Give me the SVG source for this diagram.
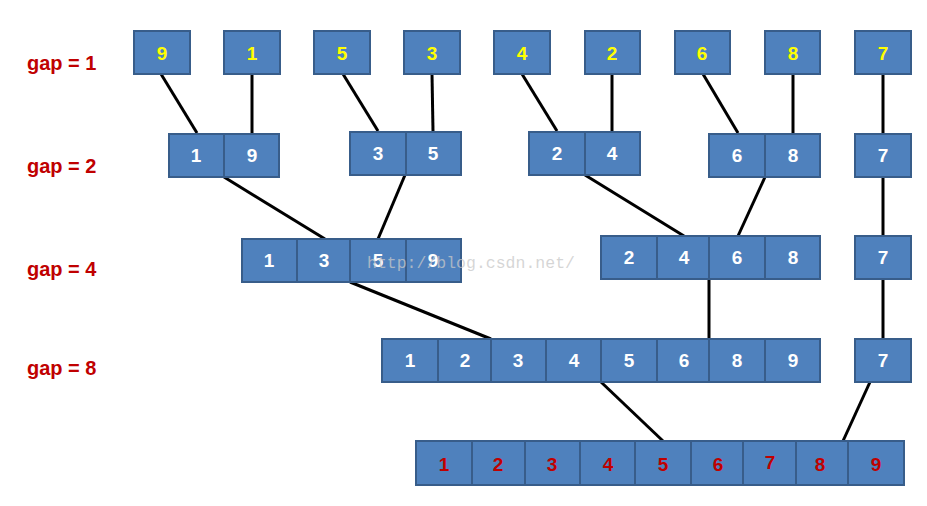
<svg xmlns="http://www.w3.org/2000/svg" width="927" height="506" viewBox="0 0 927 506">
<style>
rect{fill:#4F81BD;stroke:#385D8A;stroke-width:2}
text{font-family:"Liberation Sans",Arial,sans-serif;font-weight:bold;font-size:19px;text-anchor:middle}
.y{fill:#FFFF00}
.w{fill:#FFFFFF}
.r{fill:#C00000}
.lbl{fill:#C00000;text-anchor:start;font-size:20px}
.c line{stroke:#000;stroke-width:3}
.wm{font-family:"Liberation Mono",monospace;font-weight:normal;font-size:16.5px;fill:#C8C8C8;fill-opacity:0.75;text-anchor:start}
</style>
<rect x="0" y="0" width="927" height="506" style="fill:#fff;stroke:none"/>
<g id="labels">
<text class="lbl" x="27" y="70">gap = 1</text>
<text class="lbl" x="27" y="173">gap = 2</text>
<text class="lbl" x="27" y="276">gap = 4</text>
<text class="lbl" x="27" y="375">gap = 8</text>
</g>
<g class="c" id="connectors">
<line x1="161" y1="74" x2="197" y2="133"/>
<line x1="252" y1="74" x2="252" y2="133"/>
<line x1="343" y1="74" x2="378" y2="131"/>
<line x1="432" y1="74" x2="433" y2="131"/>
<line x1="522" y1="74" x2="557" y2="131"/>
<line x1="612" y1="74" x2="612" y2="131"/>
<line x1="703" y1="74" x2="738" y2="133"/>
<line x1="793" y1="74" x2="793" y2="133"/>
<line x1="883" y1="74" x2="883" y2="133"/>
<line x1="224" y1="177" x2="325" y2="239"/>
<line x1="405" y1="175" x2="378" y2="239"/>
<line x1="585" y1="175" x2="684" y2="236"/>
<line x1="765" y1="177" x2="738" y2="236"/>
<line x1="883" y1="177" x2="883" y2="236"/>
<line x1="350" y1="282" x2="491" y2="339"/>
<line x1="709" y1="279" x2="709" y2="339"/>
<line x1="883" y1="279" x2="883" y2="339"/>
<line x1="601" y1="382" x2="663" y2="441"/>
<line x1="870" y1="382" x2="843" y2="441"/>
</g>
<g id="row1">
<g id="n1-9"><rect x="134" y="31" width="56" height="43"/><text class="y" x="162" y="60">9</text></g>
<g id="n1-1"><rect x="224" y="31" width="56" height="43"/><text class="y" x="252" y="60">1</text></g>
<g id="n1-5"><rect x="314" y="31" width="56" height="43"/><text class="y" x="342" y="60">5</text></g>
<g id="n1-3"><rect x="404" y="31" width="56" height="43"/><text class="y" x="432" y="60">3</text></g>
<g id="n1-4"><rect x="494" y="31" width="56" height="43"/><text class="y" x="522" y="60">4</text></g>
<g id="n1-2"><rect x="585" y="31" width="55" height="43"/><text class="y" x="612" y="60">2</text></g>
<g id="n1-6"><rect x="675" y="31" width="55" height="43"/><text class="y" x="702" y="60">6</text></g>
<g id="n1-8"><rect x="765" y="31" width="55" height="43"/><text class="y" x="793" y="60">8</text></g>
<g id="n1-7"><rect x="855" y="31" width="56" height="43"/><text class="y" x="883" y="60">7</text></g>
</g>
<g id="row2">
<g id="n2-a"><rect x="169" y="134" width="55" height="43"/><rect x="224" y="134" width="55" height="43"/><text class="w" x="196" y="162">1</text><text class="w" x="252" y="162">9</text></g>
<g id="n2-b"><rect x="350" y="132" width="56" height="43"/><rect x="406" y="132" width="55" height="43"/><text class="w" x="378" y="160">3</text><text class="w" x="433" y="160">5</text></g>
<g id="n2-c"><rect x="529" y="132" width="56" height="43"/><rect x="585" y="132" width="55" height="43"/><text class="w" x="557" y="160">2</text><text class="w" x="612" y="160">4</text></g>
<g id="n2-d"><rect x="709" y="134" width="56" height="43"/><rect x="765" y="134" width="55" height="43"/><text class="w" x="737" y="162">6</text><text class="w" x="793" y="162">8</text></g>
<g id="n2-e"><rect x="855" y="134" width="56" height="43"/><text class="w" x="883" y="162">7</text></g>
</g>
<g id="row3">
<g id="n3-a"><rect x="242" y="239" width="55" height="43"/><rect x="297" y="239" width="53" height="43"/><rect x="350" y="239" width="56" height="43"/><rect x="406" y="239" width="55" height="43"/>
<text class="w" x="269" y="267">1</text><text class="w" x="324" y="267">3</text><text class="w" x="378" y="267">5</text><text class="w" x="433" y="267">9</text></g>
<g id="n3-b"><rect x="601" y="236" width="56" height="43"/><rect x="657" y="236" width="52" height="43"/><rect x="709" y="236" width="56" height="43"/><rect x="765" y="236" width="55" height="43"/>
<text class="w" x="629" y="264">2</text><text class="w" x="684" y="264">4</text><text class="w" x="737" y="264">6</text><text class="w" x="793" y="264">8</text></g>
<g id="n3-c"><rect x="855" y="236" width="56" height="43"/><text class="w" x="883" y="264">7</text></g>
</g>
<g id="row4">
<g id="n4-a">
<rect x="382" y="339" width="56" height="43"/><rect x="438" y="339" width="53" height="43"/><rect x="491" y="339" width="55" height="43"/><rect x="546" y="339" width="55" height="43"/><rect x="601" y="339" width="56" height="43"/><rect x="657" y="339" width="52" height="43"/><rect x="709" y="339" width="56" height="43"/><rect x="765" y="339" width="55" height="43"/>
<text class="w" x="410" y="367">1</text><text class="w" x="465" y="367">2</text><text class="w" x="518" y="367">3</text><text class="w" x="574" y="367">4</text><text class="w" x="629" y="367">5</text><text class="w" x="684" y="367">6</text><text class="w" x="737" y="367">8</text><text class="w" x="793" y="367">9</text></g>
<g id="n4-b"><rect x="855" y="339" width="56" height="43"/><text class="w" x="883" y="367">7</text></g>
</g>
<g id="row5">
<g id="n5">
<rect x="416" y="441" width="56" height="44"/><rect x="472" y="441" width="53" height="44"/><rect x="525" y="441" width="55" height="44"/><rect x="580" y="441" width="55" height="44"/><rect x="635" y="441" width="56" height="44"/><rect x="691" y="441" width="52" height="44"/><rect x="743" y="441" width="53" height="44"/><rect x="796" y="441" width="52" height="44"/><rect x="848" y="441" width="56" height="44"/>
<text class="r" x="444" y="471">1</text><text class="r" x="498" y="471">2</text><text class="r" x="552" y="471">3</text><text class="r" x="608" y="471">4</text><text class="r" x="663" y="471">5</text><text class="r" x="718" y="471">6</text><text class="r" x="770" y="469">7</text><text class="r" x="820" y="471">8</text><text class="r" x="876" y="471">9</text></g>
</g>
<text class="wm" x="367" y="268">http://blog.csdn.net/</text>
</svg>
